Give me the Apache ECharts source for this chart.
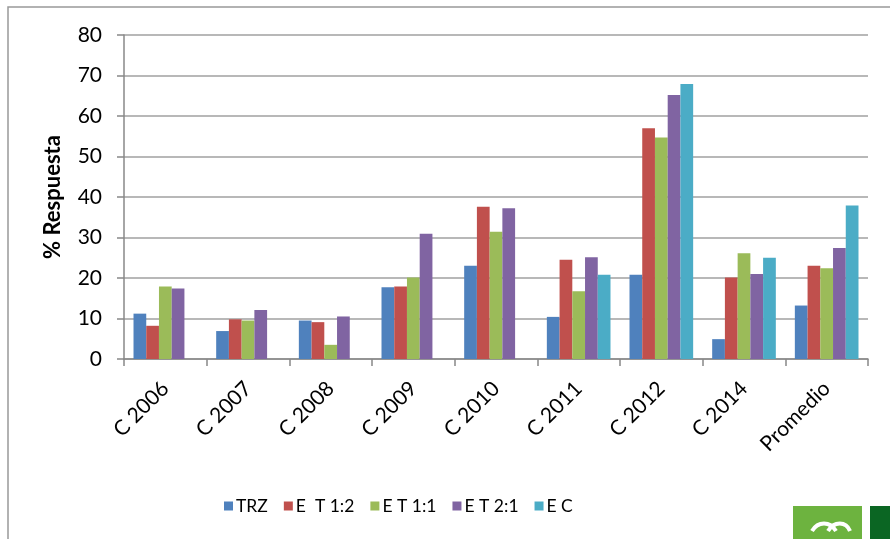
<!DOCTYPE html>
<html><head><meta charset="utf-8">
<script src="https://cdn.jsdelivr.net/npm/echarts@6/dist/echarts.min.js"></script>
<style>html,body{margin:0;padding:0;background:#fff}#c{width:890px;height:539px}</style>
</head><body><div id="c"></div>
<script>
const categories = ['C 2006','C 2007','C 2008','C 2009','C 2010','C 2011','C 2012','C 2014','Promedio'];
const seriesNames = ['TRZ','E  T 1:2','E T 1:1','E T 2:1','E C'];
const trz   = [11.2, 6.9, 9.5, 17.7, 23.0, 10.4, 20.8, 4.9, 13.2];
const et12  = [8.2, 9.8, 9.1, 17.9, 37.6, 24.5, 57.0, 20.1, 23.0];
const et11  = [17.9, 9.5, 3.5, 20.1, 31.4, 16.7, 54.7, 26.1, 22.4];
const et21  = [17.4, 12.1, 10.5, 30.9, 37.2, 25.1, 65.2, 21.0, 27.4];
const ec    = [null, null, null, null, null, 20.8, 67.9, 25.0, 37.9];
const yTicks = [0, 10, 20, 30, 40, 50, 60, 70, 80];
const colors = ['#4F81BD','#C0504D','#9BBB59','#8064A2','#4BACC6'];
const seriesData = [trz, et12, et11, et21, ec];

const font = 'Lato, "Open Sans", sans-serif';
const chart = echarts.init(document.getElementById('c'), null, {renderer:'canvas'});
chart.setOption({
  animation:false,
  color: colors,
  grid:{left:124, right:22, top:35, bottom:180, containLabel:false},
  legend:{
    data: seriesNames, left:219, top:492, itemWidth:9, itemHeight:9, itemGap:16,
    icon:'rect', textStyle:{fontFamily:font, fontSize:17.5, color:'#000', padding:[0,0,0,-2]}
  },
  xAxis:{
    type:'category', data:categories,
    axisLine:{lineStyle:{color:'#888', width:1.5}},
    axisTick:{show:true, length:7, lineStyle:{color:'#888', width:1.5}},
    axisLabel:{rotate:45, margin:26, fontFamily:font, fontSize:21, color:'#000', interval:0}
  },
  yAxis:{
    type:'value', min:yTicks[0], max:yTicks[yTicks.length-1], interval:10,
    name:'% Respuesta', nameLocation:'middle', nameGap:60,
    nameTextStyle:{fontFamily:font, fontSize:22, fontWeight:'bold', color:'#000'},
    axisLine:{show:true, lineStyle:{color:'#888', width:1.5}},
    axisTick:{show:true, length:7, lineStyle:{color:'#888', width:1.5}},
    axisLabel:{margin:22, fontFamily:font, fontSize:21, color:'#000'},
    splitLine:{lineStyle:{color:'#a0a0a0', width:1.5}}
  },
  series: seriesNames.map((n,i)=>({
    name:n, type:'bar', data:seriesData[i], barGap:'0%', barCategoryGap:'23%',
    itemStyle:{color:colors[i]}
  })),
  graphic:[
    {type:'polyline', shape:{points:[[8,545],[8,7],[895,7]]}, style:{stroke:'#999', lineWidth:1.5, fill:null}, silent:true},
    {type:'rect', shape:{x:793, y:506, width:69, height:40}, style:{fill:'#6DB33F'}},
    {type:'rect', shape:{x:870, y:506, width:25, height:40}, style:{fill:'#0B6623'}},
    {type:'bezierCurve', shape:{x1:812,y1:531,x2:836,y2:531,cpx1:818,cpy1:521,cpx2:830,cpy2:521}, style:{stroke:'#fff', lineWidth:4, fill:null}},
    {type:'bezierCurve', shape:{x1:828,y1:531,x2:850,y2:531,cpx1:834,cpy1:521,cpx2:846,cpy2:521}, style:{stroke:'#fff', lineWidth:4, fill:null}}
  ]
});
</script></body></html>
